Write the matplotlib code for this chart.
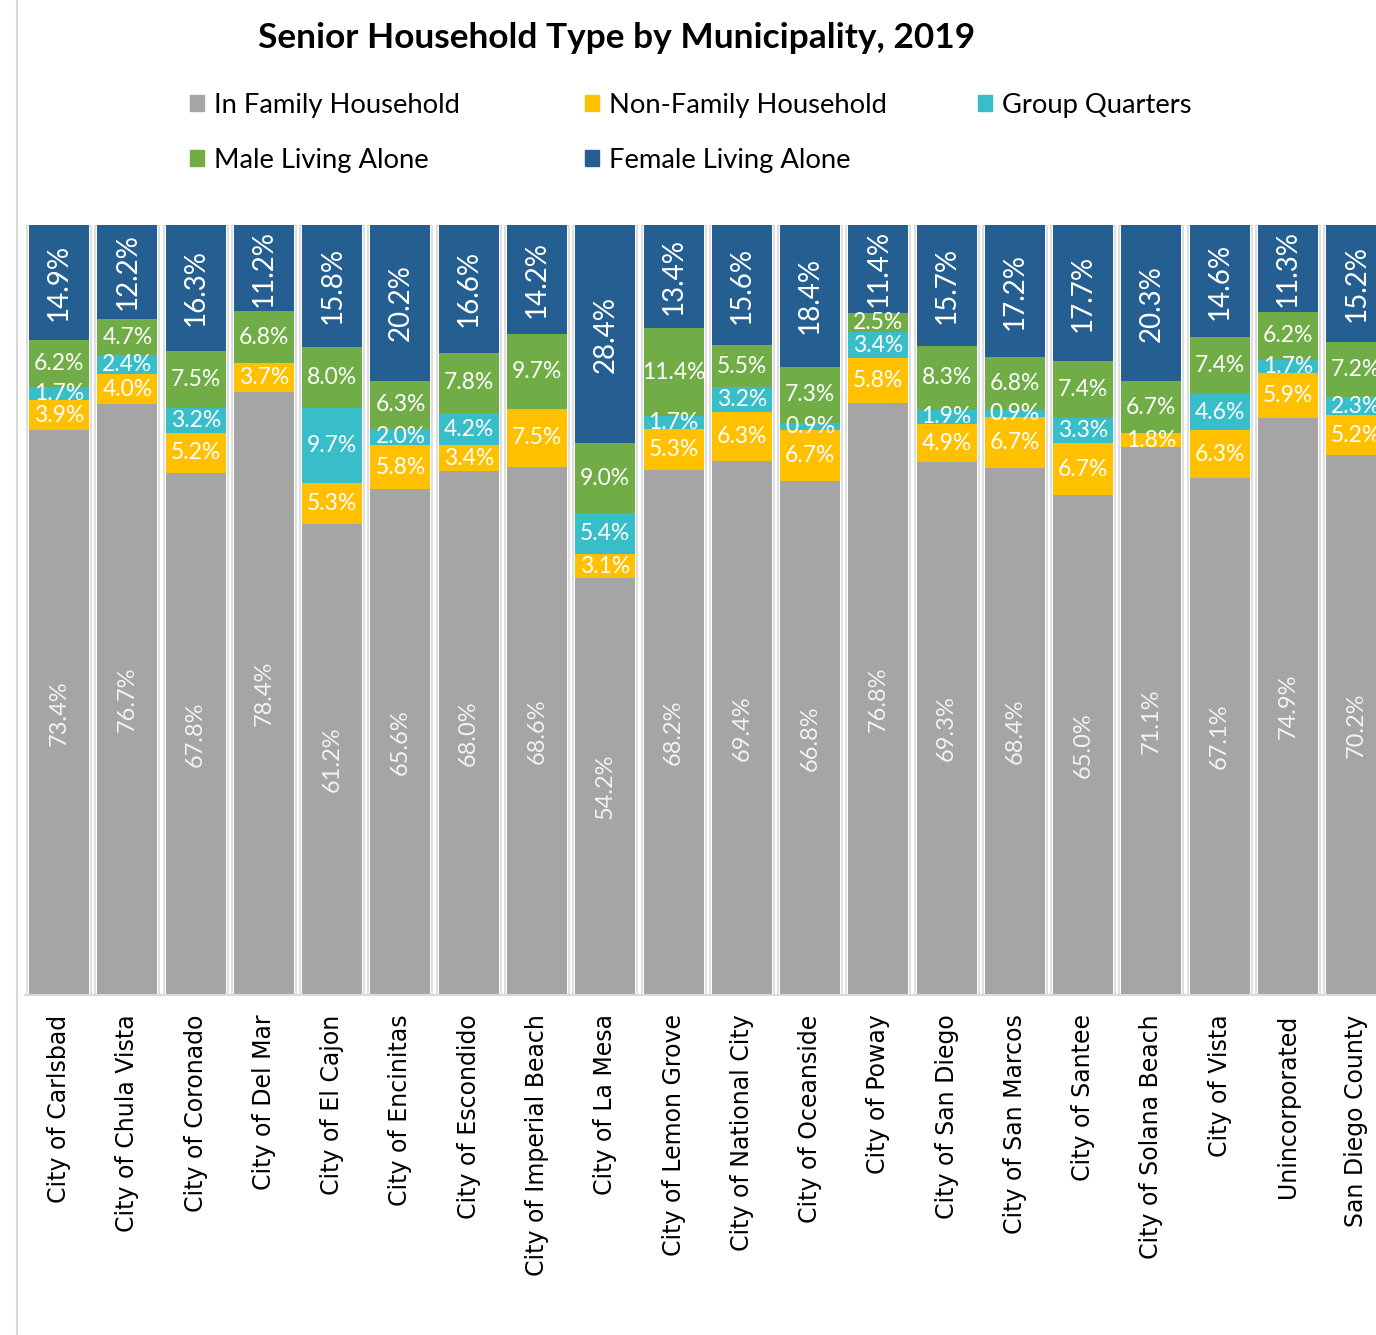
import matplotlib
matplotlib.use('Agg')
import matplotlib.pyplot as plt
import numpy
from matplotlib.lines import Line2D
from matplotlib.patches import Patch

places = ['City of Carlsbad', 'City of Chula Vista', 'City of Coronado', 'City of Del Mar',
          'City of El Cajon', 'City of Encinitas', 'City of Escondido', 'City of Imperial Beach',
          'City of La Mesa', 'City of Lemon Grove', 'City of National City', 'City of Oceanside',
          'City of Poway', 'City of San Diego', 'City of San Marcos', 'City of Santee',
          'City of Solana Beach', 'City of Vista', 'Unincorporated', 'San Diego County']

in_family = [73.4, 76.7, 67.8, 78.4, 61.2, 65.6, 68.0, 68.6, 54.2, 68.2,
             69.4, 66.8, 76.8, 69.3, 68.4, 65.0, 71.1, 67.1, 74.9, 70.2]
non_family = [3.9, 4.0, 5.2, 3.7, 5.3, 5.8, 3.4, 7.5, 3.1, 5.3,
              6.3, 6.7, 5.8, 4.9, 6.7, 6.7, 1.8, 6.3, 5.9, 5.2]
group_q = [1.7, 2.4, 3.2, 0.0, 9.7, 2.0, 4.2, 0.0, 5.4, 1.7,
           3.2, 0.9, 3.4, 1.9, 0.9, 3.3, 0.0, 4.6, 1.7, 2.3]
male_alone = [6.2, 4.7, 7.5, 6.8, 8.0, 6.3, 7.8, 9.7, 9.0, 11.4,
              5.5, 7.3, 2.5, 8.3, 6.8, 7.4, 6.7, 7.4, 6.2, 7.2]
female_alone = [14.9, 12.2, 16.3, 11.2, 15.8, 20.2, 16.6, 14.2, 28.4, 13.4,
                15.6, 18.4, 11.4, 15.7, 17.2, 17.7, 20.3, 14.6, 11.3, 15.2]

series = ['In Family Household', 'Non-Family Household', 'Group Quarters',
          'Male Living Alone', 'Female Living Alone']
colors = ['#A5A5A5', '#FFC000', '#38BEC9', '#70AD47', '#255E91']

W, H = 1376, 1335
fig = plt.figure(figsize=(W/100., H/100.), dpi=100)
ax = fig.add_axes([25./W, 340./H, 1 - 25./W, 770./H])

data = numpy.array([in_family, non_family, group_q, male_alone, female_alone])
totals = data.sum(axis=0)
shares = data / totals * 100  # 100% stacked
x = numpy.arange(len(places))
bw = 0.879

bottom = numpy.zeros(len(places))
for k in range(len(series)):
    ax.bar(x, shares[k], bw, bottom=bottom, color=colors[k], linewidth=0, label=series[k])
    for i in range(len(places)):
        v = data[k][i]
        if v <= 0:
            continue
        yc = bottom[i] + shares[k][i]/2.
        lab = '%.1f%%' % v
        if k == 0:
            ax.text(x[i], yc, lab, rotation=90, ha='center', va='center', color='#F2F2F2',
                    fontsize=17, family='Lato')
        elif k == 4:
            ax.text(x[i], yc, lab, rotation=90, ha='center', va='center', color='white',
                    fontsize=20, family='Lato')
        else:
            ax.text(x[i], yc, lab, ha='center', va='center', color='white',
                    fontsize=16.5, family='Lato')
    bottom += shares[k]

# light outline around each column
ax.bar(x, 100, bw + 4/68.28, fill=False, edgecolor='#D9D9D9', linewidth=1.2, zorder=0)

ax.set_xlim(-0.5, 19.29)
ax.set_ylim(0, 100)
ax.set_yticks([])
ax.set_xticks(x)
ax.set_xticklabels(places, rotation=90, fontsize=17, family='DejaVu Sans')
ax.tick_params(axis='x', length=0, pad=14)
for s in ['top', 'left', 'right']:
    ax.spines[s].set_visible(False)
ax.spines['bottom'].set_color('#D9D9D9')
ax.spines['bottom'].set_linewidth(1.5)

fig.text(617./W, 1 - 38./H, 'Senior Household Type by Municipality, 2019', ha='center', va='center',
         fontsize=25.4, fontweight='bold', family='Lato')

# legend, one column at a time
cols = [[0, 3], [1, 4], [2]]
xs = [190., 585., 978.]
for c in range(3):
    hs = [Patch(color=colors[k]) for k in cols[c]]
    ls = [series[k] for k in cols[c]]
    fig.legend(hs, ls, loc='upper left', bbox_to_anchor=(xs[c]/W, 1 - 93./H), frameon=False,
               borderpad=0, borderaxespad=0, handlelength=0.52, handleheight=0.52,
               handletextpad=0.35, labelspacing=1.09, prop={'family': 'Lato', 'size': 19.7})

fig.add_artist(Line2D([17./W, 17./W], [0, 1], color='#D9D9D9', linewidth=1.5))

fig.savefig('out.png', dpi=100)
